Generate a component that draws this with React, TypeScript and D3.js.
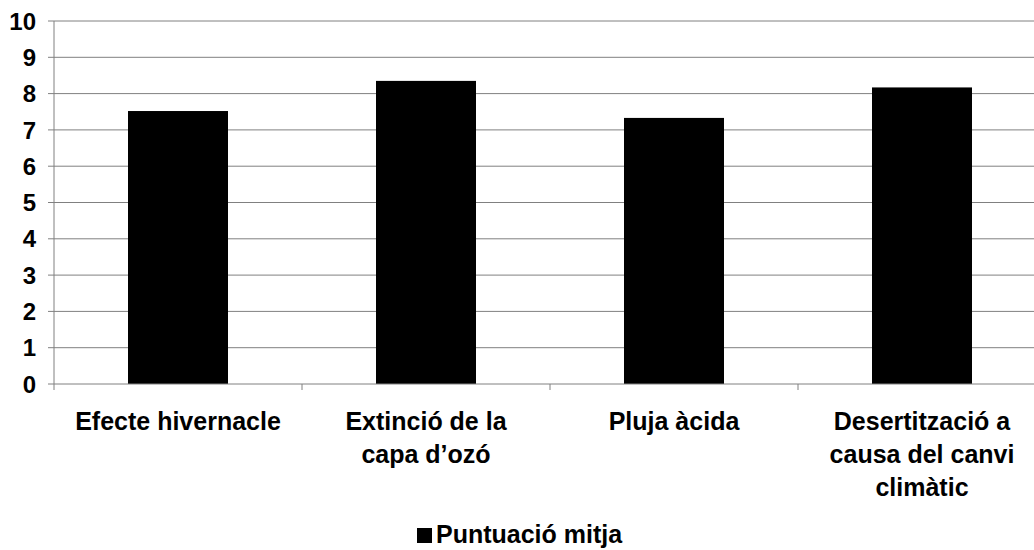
import React, { useEffect, useRef } from 'react';
import * as d3 from 'd3';

const categories: string[][] = [
  ['Efecte hivernacle'],
  ['Extinció de la', 'capa d\u2019ozó'],
  ['Pluja àcida'],
  ['Desertització a', 'causa del canvi', 'climàtic'],
];
const values: number[] = [7.52, 8.35, 7.33, 8.17];
const yTicks: number[] = [0, 1, 2, 3, 4, 5, 6, 7, 8, 9, 10];
const seriesName = 'Puntuació mitja';

const App: React.FC = () => {
  const ref = useRef<SVGSVGElement | null>(null);

  useEffect(() => {
    if (!ref.current) return;
    const W = 1034;
    const H = 550;
    const left = 54;
    const right = 1046;
    const top = 21;
    const bottom = 384;
    const font = 'Arial, "Liberation Sans", sans-serif';

    const svg = d3.select(ref.current);
    svg.selectAll('*').remove();
    svg.attr('width', W).attr('height', H);

    const x = d3
      .scaleBand<number>()
      .domain(values.map((_, i) => i))
      .range([left, right])
      .paddingInner(0)
      .paddingOuter(0);
    const y = d3.scaleLinear().domain([0, 10]).range([bottom, top]);

    // Gridlines
    svg
      .append('g')
      .selectAll('line')
      .data(yTicks.filter((t) => t > 0))
      .enter()
      .append('line')
      .attr('x1', left)
      .attr('x2', right)
      .attr('y1', (d) => y(d))
      .attr('y2', (d) => y(d))
      .attr('stroke', '#808080')
      .attr('stroke-width', 1);

    // Bars
    const barW = 100;
    svg
      .append('g')
      .selectAll('rect')
      .data(values)
      .enter()
      .append('rect')
      .attr('x', (_, i) => (x(i) || 0) + x.bandwidth() / 2 - barW / 2)
      .attr('y', (d) => y(d))
      .attr('width', barW)
      .attr('height', (d) => bottom - y(d))
      .attr('fill', '#000');

    // Y axis
    const yAxis = svg.append('g');
    yAxis
      .append('line')
      .attr('x1', left)
      .attr('x2', left)
      .attr('y1', top)
      .attr('y2', bottom)
      .attr('stroke', '#808080');
    yAxis
      .selectAll('line.tick')
      .data(yTicks)
      .enter()
      .append('line')
      .attr('class', 'tick')
      .attr('x1', left - 6)
      .attr('x2', left)
      .attr('y1', (d) => y(d))
      .attr('y2', (d) => y(d))
      .attr('stroke', '#808080');
    yAxis
      .selectAll('text')
      .data(yTicks)
      .enter()
      .append('text')
      .attr('x', 36)
      .attr('y', (d) => y(d))
      .attr('dy', '0.36em')
      .attr('text-anchor', 'end')
      .attr('font-family', font)
      .attr('font-weight', 'bold')
      .attr('font-size', 24)
      .text((d) => String(d));

    // X axis
    const xAxis = svg.append('g');
    xAxis
      .append('line')
      .attr('x1', left)
      .attr('x2', right)
      .attr('y1', bottom)
      .attr('y2', bottom)
      .attr('stroke', '#808080');
    xAxis
      .selectAll('line.tick')
      .data(d3.range(values.length + 1))
      .enter()
      .append('line')
      .attr('class', 'tick')
      .attr('x1', (i) => left + i * x.bandwidth())
      .attr('x2', (i) => left + i * x.bandwidth())
      .attr('y1', bottom)
      .attr('y2', bottom + 6)
      .attr('stroke', '#808080');

    const labels = xAxis
      .selectAll('text')
      .data(categories)
      .enter()
      .append('text')
      .attr('text-anchor', 'middle')
      .attr('font-family', font)
      .attr('font-weight', 'bold')
      .attr('font-size', 25);
    labels
      .selectAll('tspan')
      .data((d, i) => d.map((line) => ({ line, i })))
      .enter()
      .append('tspan')
      .attr('x', (d) => (x(d.i) || 0) + x.bandwidth() / 2)
      .attr('y', (_, j) => 430 + j * 33)
      .text((d) => d.line);

    // Legend
    const legend = svg.append('g');
    legend
      .append('rect')
      .attr('x', 417)
      .attr('y', 528)
      .attr('width', 15)
      .attr('height', 15)
      .attr('fill', '#000');
    legend
      .append('text')
      .attr('x', 436)
      .attr('y', 543)
      .attr('font-family', font)
      .attr('font-weight', 'bold')
      .attr('font-size', 25)
      .text(seriesName);
  }, []);

  return (
    <svg
      ref={ref}
      style={{ position: 'absolute', left: 0, top: 0, background: '#fff' }}
    ></svg>
  );
};

export default App;
